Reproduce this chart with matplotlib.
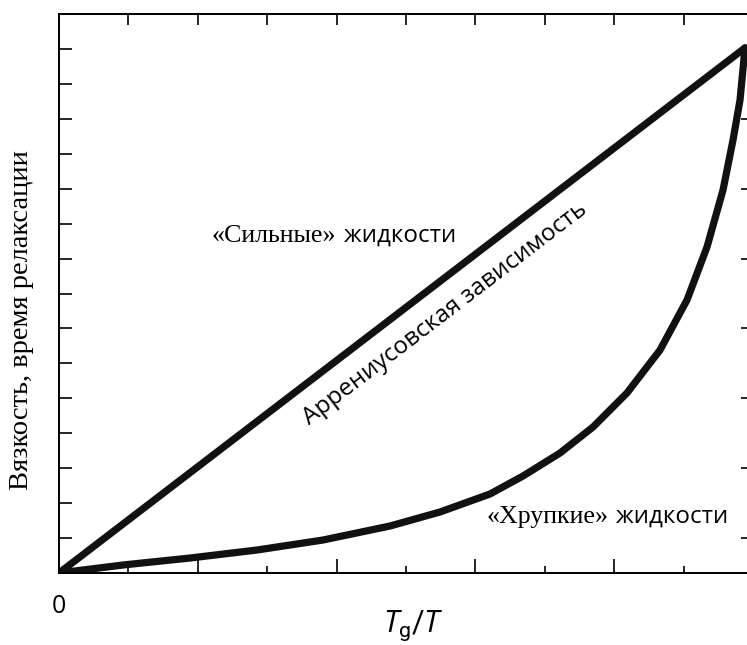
import numpy as np
import matplotlib
matplotlib.use("Agg")
import matplotlib.pyplot as plt
from matplotlib.ticker import FixedLocator, NullFormatter

plt.rcParams["mathtext.fontset"] = "custom"
plt.rcParams["mathtext.it"] = "Open Sans:italic"
plt.rcParams["mathtext.rm"] = "Roboto"

# Data
strong_x = [0.0, 9.885]
strong_y = [0.0, 15.03]
fragile_x = [0.0, 0.922, 1.888, 2.853, 3.804, 4.769, 5.490, 6.210, 6.686, 7.219,
             7.695, 8.184, 8.660, 9.049, 9.337, 9.568, 9.712, 9.813, 9.885]
fragile_y = [0.0, 0.229, 0.429, 0.658, 0.944, 1.345, 1.746, 2.261, 2.776, 3.434,
             4.179, 5.152, 6.382, 7.813, 9.330, 10.962, 12.393, 13.538, 15.03]

xlab = "$T_{\\mathrm{g}}/T$"
ylab = "Вязкость, время релаксации"
strong_q = "«Сильные»"
liquids = "жидкости"
fragile_q = "«Хрупкие»"
arrh = "Аррениусовская зависимость"

W, H = 747, 645
fig = plt.figure(figsize=(W/100, H/100), dpi=100)
L, R, B, T = 59, 753, 573, 14
ax = fig.add_axes([L/W, (H-B)/H, (R-L)/W, (B-T)/H])
ax.set_xlim(0, 10)
ax.set_ylim(0, 16)
for s in ax.spines.values():
    s.set_linewidth(1.2)

ax.plot(strong_x, strong_y, color="#111111", lw=5.2, solid_capstyle="round",
        solid_joinstyle="round")
ax.plot(fragile_x, fragile_y, color="#111111", lw=5.2, solid_capstyle="round",
        solid_joinstyle="round")

# bottom ticks
ax.xaxis.set_major_locator(FixedLocator([0, 2, 4, 6, 8]))
ax.xaxis.set_minor_locator(FixedLocator([1, 3, 5, 7, 9]))
ax.set_xticklabels(["0", "", "", "", ""])
ax.tick_params(axis="x", which="major", direction="in", length=10, width=1.2,
               pad=15, labelsize=18)
ax.tick_params(axis="x", which="minor", direction="in", length=5, width=1.2)
for lbl in ax.get_xticklabels():
    lbl.set_family("Open Sans")
# left ticks
ax.yaxis.set_major_locator(FixedLocator(list(range(1, 16))))
ax.yaxis.set_major_formatter(NullFormatter())
ax.tick_params(axis="y", which="major", direction="in", length=9, width=1.2)

# top ticks
axT = ax.twiny()
axT.set_xlim(0, 10)
axT.xaxis.set_major_locator(FixedLocator(list(range(1, 10))))
axT.xaxis.set_major_formatter(NullFormatter())
axT.tick_params(axis="x", direction="in", length=8, width=1.2)
# right ticks
axR = ax.twinx()
axR.set_ylim(0, 16)
axR.yaxis.set_major_locator(FixedLocator([1, 3, 5, 7, 9, 11, 13]))
axR.yaxis.set_major_formatter(NullFormatter())
axR.tick_params(axis="y", direction="in", length=9, width=1.2)
for a in (axT, axR):
    a.set_xlim(0, 10)
    for s in a.spines.values():
        s.set_linewidth(1.2)

fig.text(413/W, 1-632/H, xlab, ha="center", va="baseline", fontsize=22)
fig.text(22/W, 1-320/H, ylab, rotation=90, ha="center", va="center",
         fontsize=20.5, family="Liberation Serif")

# mixed-font labels
fig.canvas.draw()
rend = fig.canvas.get_renderer()

def mixed(xp, yp, first, second, size):
    t1 = fig.text(xp/W, 1-yp/H, first, ha="left", va="baseline", fontsize=size,
                  family="Liberation Serif")
    bb = t1.get_window_extent(renderer=rend)
    fig.text((bb.x1 + 7)/W, 1-yp/H, second, ha="left", va="baseline",
             fontsize=size*0.93, family="Open Sans")

mixed(212, 242, strong_q, liquids, 18.7)
mixed(487, 523, fragile_q, liquids, 18.7)

# rotated Arrhenius label
p0 = ax.transData.transform((0, 0))
p1 = ax.transData.transform((strong_x[1], strong_y[1]))
ang = np.degrees(np.arctan2(p1[1]-p0[1], p1[0]-p0[0]))
fig.text(445/W, 1-314/H, arrh, rotation=ang, rotation_mode="anchor",
         ha="center", va="center", fontsize=17.5, family="Open Sans")

fig.savefig("out.png", dpi=100)
